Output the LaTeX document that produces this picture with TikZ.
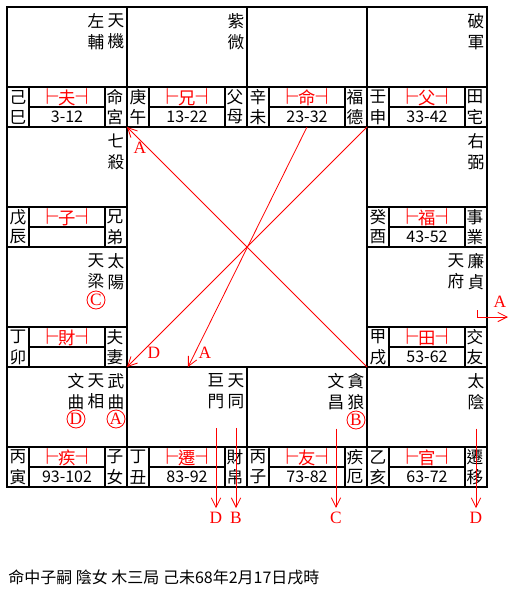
\documentclass[tikz,border=0pt]{standalone}
\usepackage{fontspec}
\setmainfont{Noto Sans CJK TC}
\newfontfamily\latinfont{Liberation Serif}
\usetikzlibrary{arrows.meta}
\newcommand\gongL{{\fontsize{16}{16}\selectfont$\vdash$}\kern-1pt}
\newcommand\gongR{\kern-1pt{\fontsize{16}{16}\selectfont$\dashv$}}

\tikzset{
  grid/.style={line width=1.5pt},
  star/.style={font=\fontsize{12.5}{15.75}\selectfont, align=center, inner sep=0pt},
  strip/.style={font=\fontsize{12.5}{14}\selectfont, inner sep=0pt},
  gong/.style={text=red, font=\fontsize{13}{14}\selectfont, inner sep=0pt},
  years/.style={font=\fontsize{12}{13}\selectfont, inner sep=0pt},
  hua/.style={draw=red, circle, text=red, line width=0.6pt, minimum size=13.5pt, inner sep=0pt, font=\latinfont\fontsize{13}{13}\selectfont},
  tag/.style={text=red, inner sep=0pt, font=\latinfont\fontsize{13}{13}\selectfont},
  flow/.style={red, line width=0.6pt, -{Straight Barb[length=7pt,width=7pt]}}
}

\begin{document}
\begin{tikzpicture}[x=0.75pt, y=-0.75pt]
\useasboundingbox (0,0) rectangle (515,593);
% frame of the twelve palaces
\draw[grid] (7,7) rectangle (487,487);
\draw[grid] (7,127)--(487,127); \draw[grid] (7,367)--(487,367);
\draw[grid] (7,247)--(127,247); \draw[grid] (367,247)--(487,247);
\draw[grid] (127,7)--(127,487); \draw[grid] (367,7)--(367,487);
\draw[grid] (247,7)--(247,127); \draw[grid] (247,367)--(247,487);
% bottom strip of each palace
\foreach \x/\y/\gan/\zhi/\g/\nian/\pa/\pb/\n in {
  7/7/己/巳/夫/3-12/命/宮/si, 127/7/庚/午/兄/13-22/父/母/wu,
  247/7/辛/未/命/23-32/福/德/wei, 367/7/壬/申/父/33-42/田/宅/shen,
  7/127/戊/辰/子/{}/兄/弟/chen, 367/127/癸/酉/福/43-52/事/業/you,
  7/247/丁/卯/財/{}/夫/妻/mao, 367/247/甲/戌/田/53-62/交/友/xu,
  7/367/丙/寅/疾/93-102/子/女/yin, 127/367/丁/丑/遷/83-92/財/帛/chou,
  247/367/丙/子/友/73-82/疾/厄/zi, 367/367/乙/亥/官/63-72/遷/移/hai}
{
  \draw[grid] (\x,\y+80)--(\x+120,\y+80); \draw[grid] (\x+22,\y+100)--(\x+98,\y+100);
  \draw[grid] (\x+22,\y+80)--(\x+22,\y+120); \draw[grid] (\x+98,\y+80)--(\x+98,\y+120);
  \node[strip] (gan-\n) at (\x+11,\y+90) {\gan};
  \node[strip] (zhi-\n) at (\x+11,\y+110) {\zhi};
  \node[gong] (gong-\n) at (\x+60,\y+90) {\gongL\g\gongR};
  \node[years] (nian-\n) at (\x+60,\y+110) {\nian};
  \node[strip] (pa-\n) at (\x+108,\y+90) {\pa};
  \node[strip] (pb-\n) at (\x+108,\y+110) {\pb};
}
% stars
\node[star] (tianji) at (116,31.5) {天\\機}; \node[star] (zuofu) at (96,31.5) {左\\輔};
\node[star] (ziwei) at (236,31.5) {紫\\微};
\node[star] (pojun) at (476,31.5) {破\\軍};
\node[star] (qisha) at (116,151.5) {七\\殺};
\node[star] (youbi) at (476,151.5) {右\\弼};
\node[star] (taiyang) at (116,271.5) {太\\陽}; \node[star] (tianliang) at (96,271.5) {天\\梁};
\node[hua] (huaC) at (96,300) {C};
\node[star] (lianzhen) at (476,271.5) {廉\\貞}; \node[star] (tianfu) at (456,271.5) {天\\府};
\node[star] (wuqu) at (116,391.5) {武\\曲}; \node[star] (tianxiang) at (96,391.5) {天\\相};
\node[star] (wenqu) at (76,391.5) {文\\曲};
\node[hua] (huaA) at (116,419) {A}; \node[hua] (huaD) at (76,419) {D};
\node[star] (tiantong) at (236,391.5) {天\\同}; \node[star] (jumen) at (216,391.5) {巨\\門};
\node[star] (tanlang) at (356,391.5) {貪\\狼}; \node[star] (wenchang) at (336,391.5) {文\\昌};
\node[hua] (huaB) at (356,420) {B};
\node[star] (taiyin) at (476,391.5) {太\\陰};
% flying lines
\coordinate (ne) at (367,127); \coordinate (sw) at (127,367);
\coordinate (nw) at (127,127); \coordinate (se) at (367,367);
\coordinate (fude) at (307,127); \coordinate (lowA) at (188,367);
\draw[flow] (ne)--(sw); \draw[flow] (se)--(nw); \draw[flow] (fude)--(lowA);
\node[tag] (tagA1) at (140,148) {A};
\node[tag] (tagD) at (154,353) {D};
\node[tag] (tagA2) at (205,353) {A};
\coordinate (lianmark) at (477,310); \coordinate (exit) at (508,317);
\draw[flow] (lianmark) |- (exit);
\node[tag] (tagA3) at (500,302) {A};
\node[tag] (tagD1) at (216,518) {D}; \node[tag] (tagB) at (236,518) {B};
\node[tag] (tagC) at (336,518) {C}; \node[tag] (tagD2) at (476,518) {D};
\draw[flow] ([yshift=-14pt]jumen.south)--([yshift=3pt]tagD1.north);
\draw[flow] ([yshift=-14pt]tiantong.south)--([yshift=3pt]tagB.north);
\draw[flow] ([yshift=-14pt]wenchang.south)--([yshift=3pt]tagC.north);
\draw[flow] ([yshift=-14pt]taiyin.south)--([yshift=3pt]tagD2.north);
% birth data
\node[anchor=west, inner sep=0pt, font=\fontsize{12}{14}\selectfont] (note) at (8,577) {命中子嗣 陰女 木三局 己未68年2月17日戌時};
\end{tikzpicture}
\end{document}
